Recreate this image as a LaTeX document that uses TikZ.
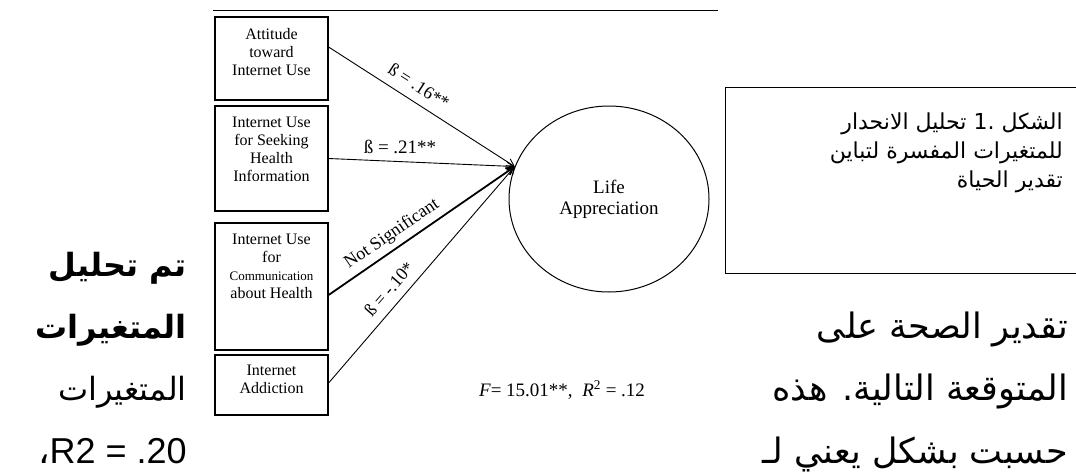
\documentclass[tikz,border=0pt]{standalone}
\usepackage{fontspec}
\setmainfont{Liberation Serif}
\newfontfamily\arabicfont[Script=Arabic]{DejaVu Sans}
\newfontfamily\arialfont{Liberation Sans}
\usetikzlibrary{arrows.meta,shapes.geometric}
\TeXXeTstate=1
\begin{document}
\begin{tikzpicture}[x=1pt,y=-1pt,
  box/.style={draw, line width=1.2pt, minimum width=113pt, inner sep=0pt},
  btext/.style={font=\fontsize{16}{18}\selectfont, align=center, inner sep=0pt, anchor=north},
  lbl/.style={font=\fontsize{18}{20}\selectfont, inner sep=0pt},
  conn/.style={line width=0.9pt, -{Straight Barb[length=7pt,width=8pt]}},
  big/.style={font=\arabicfont\fontsize{35}{38}\selectfont, anchor=base east, inner sep=0pt},
  bigb/.style={big, font=\arabicfont\bfseries\fontsize{32}{36}\selectfont},
  captext/.style={font=\arabicfont\fontsize{22}{29}\selectfont, align=right, anchor=north east, inner sep=0pt}]
\useasboundingbox (0,0) rectangle (1076,474);
\fill[white] (0,0) rectangle (1076,474);
% top rule
\coordinate (tl1) at (213,10);
\coordinate (tl2) at (718,10);
\draw[line width=0.8pt] (tl1) -- (tl2);
% boxes
\node[box, minimum height=83pt] (b1) at (271.5,58.5) {};
\node[box, minimum height=105pt] (b2) at (271.5,158.5) {};
\node[box, minimum height=127pt] (b3) at (271.5,286.5) {};
\node[box, minimum height=60pt] (b4) at (271.5,385) {};
\node[btext] (b1t) at (271.5,28) {Attitude\\toward\\Internet Use};
\node[btext] (b2t) at (271.5,117) {Internet Use\\for Seeking\\Health\\Information};
\node[btext] (b3t) at (271.5,234) {Internet Use\\for\\{\fontsize{13}{14}\selectfont Communication}\\about Health};
\node[btext] (b4t) at (271.5,365) {Internet\\Addiction};
% outcome
\node[draw, ellipse, line width=1pt, minimum width=200pt, minimum height=186pt, inner sep=0pt,
      align=center, font=\fontsize{19}{21}\selectfont] (la) at (609,199) {Life\\Appreciation};
% connectors
\draw[conn] ([yshift=11.5pt]b1.east) -- (la.161);
\draw[conn] (b2.east) -- (la.161);
\draw[conn, line width=1.8pt] ([yshift=-8.5pt]b3.east) -- (la.161);
\draw[conn] ([yshift=2pt]b4.east) -- (la.161);
% labels
\node[lbl, rotate=-32.7] (l1) at (419,86) {ß = .16**};
\node[lbl, font=\fontsize{19}{21}\selectfont] (l2) at (400,147) {ß = .21**};
\node[lbl, rotate=34.4] (l3) at (392,234) {Not Significant};
\node[lbl, rotate=49] (l4) at (389,289) {ß = -.10*};
\node[lbl, font=\fontsize{19}{21}\selectfont] (fr) at (562,390) {\textit{F}= 15.01**,\ \ \textit{R}\textsuperscript{2} = .12};
% caption box
\node[draw, line width=1.2pt, minimum width=360pt, minimum height=186pt, anchor=north west, inner sep=0pt] (cap) at (725,87) {};
\node[captext] (capt) at (1063,113) {\beginR الشكل \beginL.1\endL{} تحليل الانحدار\endR\\
\beginR للمتغيرات المفسرة لتباين\endR\\
\beginR تقدير الحياة\endR};
% body text
\node[bigb] (t1) at (187,276) {\beginR تم تحليل\endR};
\node[bigb] (t2) at (187,338) {\beginR المتغيرات\endR};
\node[big, font=\arabicfont\fontsize{32}{36}\selectfont] (t3) at (187,400) {\beginR المتغيرات\endR};
\node[anchor=base east, inner sep=0pt, font=\arialfont\fontsize{36}{40}\selectfont] (t4) at (187,463) {{\arabicfont ،}R2 = .20};
\node[big] (r1) at (1068,338) {\beginR تقدير الصحة على\endR};
\node[big] (r2) at (1068,400) {\beginR المتوقعة التالية. هذه\endR};
\node[big] (r3) at (1068,463) {\beginR حسبت بشكل يعني لـ\endR};
\end{tikzpicture}
\end{document}
